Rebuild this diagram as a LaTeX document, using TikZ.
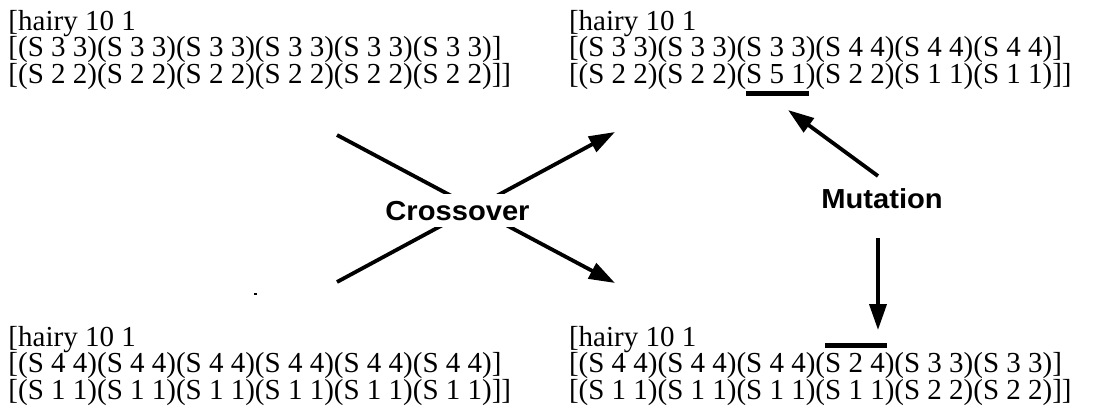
\documentclass[tikz,border=0pt]{standalone}
\usepackage{fontspec}
\setmainfont{Liberation Serif}
\newfontfamily\labelfont{Liberation Sans}[FakeStretch=1.06]
\usetikzlibrary{arrows.meta}

\tikzset{
  gene/.style={anchor=base west, inner sep=0pt, outer sep=0pt,
    font=\fontsize{29}{29}\selectfont},
  oplabel/.style={anchor=base, fill=white, inner xsep=4pt, inner ysep=6.5pt,
    font=\labelfont\bfseries\fontsize{27.5}{27.5}\selectfont},
  flow/.style={line width=3.8pt, -{Triangle[length=26pt,width=17pt]}},
  markbar/.style={line width=4.5pt},
}

\begin{document}
\begin{tikzpicture}[x=1pt, y=-1pt]
\useasboundingbox (0,0) rectangle (1093,407);

% parent 1 (top left)
\node[gene] (tl1) at (8.5,30) {[hairy 10 1};
\node[gene] (tl2) at (8.5,56.5) {[(S 3 3)(S 3 3)(S 3 3)(S 3 3)(S 3 3)(S 3 3)]};
\node[gene] (tl3) at (8.5,83) {[(S 2 2)(S 2 2)(S 2 2)(S 2 2)(S 2 2)(S 2 2)]]};

% parent 2 (bottom left)
\node[gene] (bl1) at (8.5,346) {[hairy 10 1};
\node[gene] (bl2) at (8.5,372.5) {[(S 4 4)(S 4 4)(S 4 4)(S 4 4)(S 4 4)(S 4 4)]};
\node[gene] (bl3) at (8.5,399) {[(S 1 1)(S 1 1)(S 1 1)(S 1 1)(S 1 1)(S 1 1)]]};

% child 1 (top right)
\node[gene] (tr1) at (569,30) {[hairy 10 1};
\node[gene] (tr2) at (569,56.5) {[(S 3 3)(S 3 3)(S 3 3)(S 4 4)(S 4 4)(S 4 4)]};
\node[gene] (tr3a) at (569,83) {[(S 2 2)(S 2 2)(};
\node[gene] (s51) at (tr3a.base east) {S 5 1};
\node[gene] (tr3b) at (s51.base east) {)(S 2 2)(S 1 1)(S 1 1)]]};

% child 2 (bottom right)
\node[gene] (br1) at (569,346) {[hairy 10 1};
\node[gene] (br2a) at (569,372.5) {[(S 4 4)(S 4 4)(S 4 4)(};
\node[gene] (s24) at (br2a.base east) {S 2 4};
\node[gene] (br2b) at (s24.base east) {)(S 3 3)(S 3 3)]};
\node[gene] (br3) at (569,399) {[(S 1 1)(S 1 1)(S 1 1)(S 1 1)(S 2 2)(S 2 2)]]};

% mutated genes
\draw[markbar] ([yshift=-10.5pt]s51.base west) -- ([yshift=-10.5pt,xshift=3pt]s51.base east);
\draw[markbar] ([yshift=27pt]s24.base west) -- ([yshift=27pt,xshift=2pt]s24.base east);

% crossover
\coordinate (xa) at (337,135);
\coordinate (xb) at (615,283);
\coordinate (xc) at (337,282);
\coordinate (xd) at (615,132);
\draw[flow] (xa) -- (xb);
\draw[flow] (xc) -- (xd);
\node[oplabel] (cross) at (457.5,220) {Crossover};

% mutation
\node[oplabel] (mut) at (882,208) {Mutation};
\coordinate (mu1) at (878,176);
\coordinate (mu2) at (788,110);
\coordinate (md1) at (878,238);
\coordinate (md2) at (878,330);
\draw[flow] (mu1) -- (mu2);
\draw[flow] (md1) -- (md2);

% stray speck
\fill (254,292.5) rectangle (256.5,295);
\end{tikzpicture}
\end{document}
